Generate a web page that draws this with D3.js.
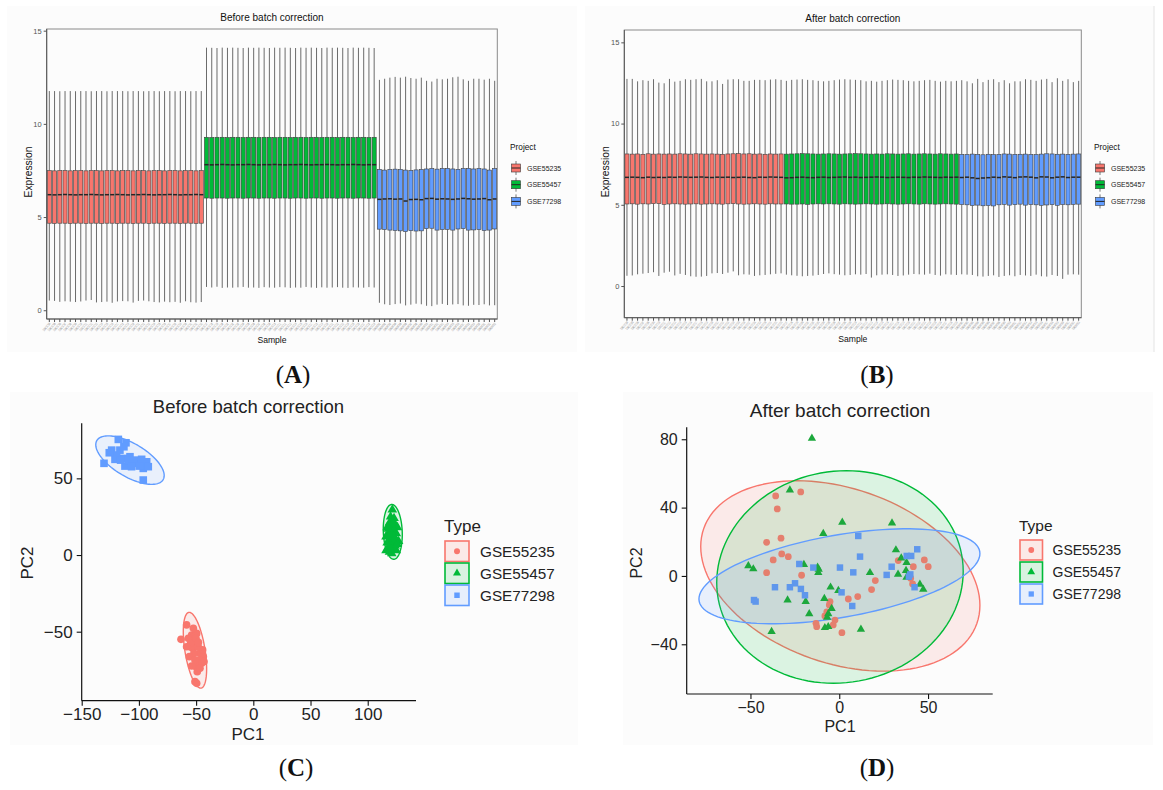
<!DOCTYPE html>
<html><head><meta charset="utf-8">
<script src="https://cdn.jsdelivr.net/npm/d3@7"></script>
<style>body{margin:0;background:#fff}svg{display:block}</style>
</head><body>
<svg id="chart" width="1163" height="790"></svg>
<script>
// ---------------- DATA ----------------
const projects = ["GSE55235", "GSE55457", "GSE77298"];
const projectColors = ["#F8766D", "#00BA38", "#619CFF"];
const sampleCounts = [30, 33, 23];
const sampleIdStart = [1337304, 1337197, 2047001];

const yTicksBox = [0, 5, 10, 15];

// Panel A (before batch correction) : per-sample boxplot statistics
const beforeUpper = [
 11.76,11.76,11.75,11.76,11.76,11.75,11.76,11.76,11.75,11.76,11.76,11.75,11.76,11.76,11.76,11.75,11.76,11.76,11.75,11.76,11.76,11.75,11.76,11.76,11.75,11.76,11.76,11.75,11.76,11.76,
 14.09,14.08,14.07,14.09,14.08,14.09,14.08,14.07,14.09,14.08,14.09,14.08,14.07,14.09,14.08,14.09,14.08,14.07,14.09,14.08,14.09,14.08,14.07,14.09,14.08,14.09,14.08,14.07,14.09,14.08,14.09,14.08,14.07,
 12.36,12.42,12.48,12.52,12.48,12.53,12.46,12.42,12.48,12.31,12.27,12.42,12.39,12.42,12.50,12.53,12.39,12.31,12.42,12.42,12.37,12.42,12.31];
const beforeQ3 = [
 7.49,7.48,7.49,7.49,7.48,7.49,7.49,7.48,7.49,7.49,7.48,7.49,7.49,7.48,7.49,7.49,7.48,7.49,7.49,7.48,7.49,7.49,7.48,7.49,7.49,7.48,7.49,7.49,7.48,7.49,
 9.28,9.27,9.28,9.28,9.27,9.28,9.28,9.27,9.28,9.28,9.27,9.28,9.28,9.27,9.28,9.28,9.27,9.28,9.28,9.27,9.28,9.28,9.27,9.28,9.28,9.27,9.28,9.28,9.27,9.28,9.28,9.27,9.28,
 7.55,7.52,7.55,7.57,7.55,7.52,7.50,7.53,7.55,7.58,7.60,7.57,7.60,7.61,7.58,7.56,7.60,7.61,7.58,7.60,7.58,7.52,7.60];
const beforeMedian = [
 6.20,6.19,6.20,6.21,6.20,6.19,6.20,6.20,6.21,6.20,6.19,6.20,6.20,6.21,6.20,6.19,6.20,6.20,6.21,6.20,6.19,6.20,6.20,6.21,6.20,6.19,6.20,6.20,6.21,6.20,
 7.81,7.80,7.81,7.82,7.81,7.80,7.81,7.81,7.82,7.81,7.80,7.81,7.81,7.82,7.81,7.80,7.81,7.81,7.82,7.81,7.80,7.81,7.81,7.82,7.81,7.80,7.81,7.81,7.82,7.81,7.80,7.81,7.81,
 5.95,5.97,5.98,5.96,5.97,5.86,5.94,5.95,5.93,5.99,6.00,5.96,5.98,5.97,5.95,5.97,6.00,5.98,5.96,5.97,5.99,5.93,5.97];
const beforeQ1 = [
 4.67,4.66,4.67,4.67,4.66,4.67,4.67,4.66,4.67,4.67,4.66,4.67,4.67,4.66,4.67,4.67,4.66,4.67,4.67,4.66,4.67,4.67,4.66,4.67,4.67,4.66,4.67,4.67,4.66,4.67,
 6.02,6.01,6.02,6.02,6.01,6.02,6.02,6.01,6.02,6.02,6.01,6.02,6.02,6.01,6.02,6.02,6.01,6.02,6.02,6.01,6.02,6.02,6.01,6.02,6.02,6.01,6.02,6.02,6.01,6.02,6.02,6.01,6.02,
 4.35,4.33,4.30,4.28,4.26,4.22,4.27,4.25,4.26,4.38,4.40,4.30,4.33,4.34,4.30,4.36,4.38,4.30,4.31,4.33,4.28,4.30,4.36];
const beforeLower = [
 0.52,0.50,0.45,0.48,0.46,0.44,0.47,0.52,0.55,0.42,0.44,0.46,0.40,0.47,0.49,0.48,0.41,0.50,0.52,0.48,0.44,0.42,0.46,0.43,0.45,0.40,0.48,0.43,0.41,0.44,
 1.25,1.22,1.26,1.20,1.22,1.21,1.23,1.25,1.21,1.22,1.20,1.24,1.22,1.21,1.24,1.23,1.20,1.22,1.21,1.25,1.22,1.20,1.23,1.21,1.22,1.24,1.21,1.20,1.23,1.22,1.21,1.24,1.22,
 0.40,0.32,0.28,0.33,0.36,0.26,0.30,0.35,0.32,0.24,0.22,0.30,0.34,0.28,0.31,0.33,0.26,0.24,0.29,0.28,0.32,0.26,0.27];

// Panel B (after batch correction)
const afterUpper = [
 12.75,12.75,12.60,12.67,12.63,12.73,12.52,12.48,12.75,12.58,12.63,12.73,12.69,12.73,12.75,12.60,12.60,12.67,12.44,12.71,12.73,12.73,12.63,12.63,12.69,12.69,12.67,12.71,12.73,12.69,
 12.63,12.69,12.71,12.73,12.69,12.67,12.63,12.60,12.63,12.67,12.71,12.73,12.71,12.69,12.67,12.60,12.63,12.58,12.63,12.67,12.71,12.69,12.67,12.63,12.60,12.63,12.67,12.69,12.63,12.58,12.63,12.60,12.63,
 12.67,12.60,12.48,12.75,12.55,12.69,12.73,12.55,12.67,12.48,12.60,12.60,12.73,12.69,12.63,12.71,12.75,12.55,12.79,12.63,12.73,12.55,12.63];
const afterQ3 = [
 8.13,8.12,8.13,8.11,8.14,8.12,8.13,8.12,8.13,8.12,8.14,8.13,8.12,8.14,8.13,8.12,8.13,8.12,8.11,8.13,8.14,8.15,8.13,8.14,8.12,8.13,8.11,8.13,8.12,8.13,
 8.12,8.13,8.14,8.15,8.14,8.13,8.12,8.13,8.14,8.13,8.12,8.13,8.14,8.15,8.14,8.13,8.12,8.13,8.12,8.14,8.13,8.12,8.13,8.14,8.12,8.13,8.14,8.13,8.12,8.14,8.13,8.12,8.13,
 8.10,8.09,8.12,8.10,8.08,8.11,8.09,8.10,8.13,8.12,8.10,8.11,8.12,8.10,8.09,8.12,8.14,8.13,8.11,8.12,8.10,8.12,8.13];
const afterMedian = [
 6.69,6.70,6.69,6.67,6.70,6.68,6.69,6.68,6.70,6.69,6.71,6.70,6.69,6.70,6.71,6.69,6.68,6.70,6.69,6.70,6.68,6.69,6.70,6.68,6.67,6.70,6.69,6.71,6.70,6.69,
 6.66,6.67,6.69,6.70,6.68,6.67,6.69,6.70,6.68,6.69,6.70,6.71,6.69,6.70,6.68,6.69,6.70,6.71,6.70,6.68,6.69,6.70,6.69,6.68,6.70,6.69,6.71,6.70,6.69,6.68,6.70,6.69,6.70,
 6.68,6.70,6.66,6.62,6.65,6.67,6.70,6.68,6.72,6.70,6.67,6.71,6.72,6.70,6.66,6.72,6.71,6.66,6.70,6.72,6.68,6.70,6.70];
const afterQ1 = [
 5.05,5.06,5.04,5.06,5.05,5.07,5.07,5.03,5.05,5.06,5.05,5.04,5.05,5.06,5.04,5.05,5.06,5.05,5.04,5.06,5.07,5.05,5.04,5.05,5.06,5.05,5.04,5.06,5.05,5.05,
 5.05,5.04,5.04,5.05,5.03,5.05,5.06,5.05,5.06,5.05,5.04,5.06,5.05,5.04,5.05,5.06,5.05,5.04,5.05,5.06,5.05,5.04,5.05,5.06,5.05,5.04,5.06,5.05,5.04,5.05,5.06,5.05,5.04,
 5.02,5.00,4.96,4.98,4.94,4.96,4.93,5.00,5.03,4.98,5.01,5.04,4.98,5.02,5.00,4.97,4.99,5.01,4.97,5.02,5.00,5.03,5.04];
const afterLower = [
 0.63,0.65,0.72,0.76,0.80,0.85,0.62,0.82,0.88,0.65,0.75,0.68,0.60,0.57,0.58,0.62,0.78,0.80,0.74,0.82,0.90,0.66,0.72,0.70,0.62,0.66,0.68,0.72,0.75,0.78,
 0.70,0.66,0.63,0.60,0.62,0.64,0.68,0.74,0.78,0.73,0.70,0.66,0.68,0.72,0.70,0.74,0.52,0.66,0.70,0.72,0.68,0.62,0.65,0.70,0.74,0.72,0.70,0.76,0.68,0.64,0.72,0.70,0.68,
 0.72,0.70,0.68,0.60,0.58,0.62,0.66,0.56,0.62,0.66,0.60,0.68,0.65,0.62,0.70,0.60,0.58,0.68,0.62,0.44,0.70,0.72,0.70];

// Panel C (PCA before) : [PC1, PC2]
const beforePCA_GSE55235 = [[-58.3,-45.6],[-63.2,-55.0],[-53.9,-52.2],[-52.4,-55.4],[-55.4,-59.8],[-51.0,-58.7],[-49.5,-51.1],[-53.0,-60.8],[-46.6,-64.1],[-43.7,-66.3],[-47.2,-68.4],[-45.2,-70.6],[-50.1,-72.8],[-53.9,-72.4],[-49.0,-76.1],[-51.0,-82.6],[-49.5,-83.7],[-56.8,-54.3],[-54.8,-57.6],[-50.1,-54.3],[-51.9,-64.1],[-44.3,-61.9],[-43.1,-69.5],[-52.4,-47.8],[-48.1,-60.1],[-55.9,-66.3],[-46.6,-73.9],[-51.0,-68.4],[-58.3,-59.8],[-48.0,-57.0]];
const beforePCA_GSE55457 = [[121.5,29.5],[120,25],[123,24],[119,21],[124,20],[121,19],[117,18],[126,18],[120,16],[123,16],[118,14],[125,14],[121,13],[116,12],[124,11],[119,10],[122,9],[127,9],[117,8],[120,7],[124,6],[118,5],[122,4],[116,3],[125,3],[119,2],[121,1],[123,12],[119,13],[122,21],[118,17],[126,7],[120,4]];
const beforePCA_GSE77298 = [[-118.0,75.4],[-111.3,73.2],[-123.8,68.4],[-116.6,68.4],[-130.5,59.8],[-120.9,62.4],[-113.6,63.0],[-107.8,64.1],[-112.2,58.0],[-103.4,61.9],[-97.6,62.4],[-93.2,60.8],[-96.2,56.5],[-96.2,48.9],[-119.5,65.2],[-104.9,59.8],[-99.7,58.0],[-109.3,61.5],[-116.0,61.9],[-125.9,66.7],[-106.4,57.6],[-91.8,57.6],[-113.1,70.6]];

// Panel D (PCA after)
const afterPCA_GSE55235 = [[-35.8,46.8],[-21.7,49.2],[-34.9,39.2],[-40.9,19.7],[-32.8,22.1],[-32.4,12.9],[-28.7,11.3],[-37.2,9.4],[-40.9,1.9],[-21.2,0.4],[20.3,-2.7],[18.2,-8.0],[10.4,-12.1],[5.1,-13.5],[-5.2,-15.0],[-5.6,-17.0],[-8.1,-23.4],[-2.4,-25.8],[-13.1,-27.7],[-12.7,-29.7],[-3.4,-28.7],[1.5,-33.2],[33.2,9.0],[47.9,9.4],[50.1,5.4],[41.7,5.4],[39.8,-0.4],[41.3,-4.7],[40.2,-1.4],[-7.0,-21.0]];
const afterPCA_GSE55457 = [[-15.4,80.6],[-27.8,50.3],[1.7,31.4],[29.7,31.0],[-9.0,24.8],[-51.2,5.9],[-48.4,4.1],[-19.9,6.6],[-12.2,5.1],[-11.8,1.9],[31.9,15.2],[34.9,10.5],[37.9,7.8],[17.3,1.9],[33.1,1.0],[37.6,3.1],[37.9,-0.8],[-4.9,-6.6],[-0.5,-8.6],[45.4,-4.9],[47.3,-7.8],[-29.1,-14.1],[-18.9,-15.0],[-8.4,-13.3],[-4.3,-19.1],[-16.9,-22.2],[-6.2,-22.2],[-8.1,-30.3],[-6.2,-29.7],[-38.1,-32.6],[12.2,-31.2],[-6.8,-24.2],[-11.6,3.9]];
const afterPCA_GSE77298 = [[10.7,23.4],[43.9,15.6],[11.7,11.3],[38.0,11.7],[40.5,11.7],[-22.5,7.0],[-14.6,4.9],[0.4,4.9],[7.9,2.1],[26.7,0.6],[29.5,5.4],[39.2,-0.4],[-36.2,-6.6],[-24.9,-4.3],[-27.8,-6.6],[-21.6,-7.6],[-19.3,-11.3],[1.3,-9.6],[7.3,-17.6],[-48.0,-14.1],[-47.1,-15.0],[42.4,-6.6],[40.0,0.9]];

// 95% ellipses: [centerPC1, centerPC2, varPC1, covar, varPC2]
const beforeEllipses = [[-51.0,-62.1,104,-123,610],[121.9,15.1,69,-15,320],[-107.8,61.9,894,-300,250]];
const afterEllipses = [[0.6,0.0,6178,-1352,3102],[0.4,-0.6,4816,230,3869],[0.1,-0.2,6257,1050,773]];

const beforeXTicks = [-150,-100,-50,0,50,100];
const beforeYTicks = [-50,0,50];
const afterXTicks = [-50,0,50];
const afterYTicks = [-40,0,40,80];

// ---------------- DRAW ----------------
const SANS = "'Liberation Sans', Arial, Helvetica, sans-serif";
const svg = d3.select("#chart");
svg.append("rect").attr("width",1163).attr("height",790).attr("fill","#fff");

// faint image frames
[[7,6,570,346],[585,6,569,346],[10,392,568,353],[623,392,530,353]].forEach(r=>{
  svg.append("rect").attr("x",r[0]).attr("y",r[1]).attr("width",r[2]).attr("height",r[3]).attr("fill","#fcfcfc");
});
svg.append("line").attr("x1",1154).attr("x2",1154).attr("y1",6).attr("y2",352).attr("stroke","#e4e4e4");

// sample → project index, sample names
const sampleGroup = [];
const sampleNames = [];
sampleCounts.forEach((n,g)=>{ for(let i=0;i<n;i++){ sampleGroup.push(g); sampleNames.push("GSM"+(sampleIdStart[g]+i)); } });

function boxPanel(o){
  const g = svg.append("g");
  const n = sampleGroup.length;
  const x = d3.scaleBand().domain(d3.range(n)).range([o.L,o.R]).paddingInner(0.22).paddingOuter(0.11);
  const y = d3.scaleLinear().domain(o.yDomain).range([o.B,o.T]);
  const bw = x.bandwidth();
  const idx = d3.range(n);
  g.selectAll("line.wu").data(idx).join("line")
    .attr("x1",i=>x(i)+bw/2).attr("x2",i=>x(i)+bw/2)
    .attr("y1",i=>y(o.upper[i])).attr("y2",i=>y(o.q3[i]))
    .attr("stroke","#5a5a5a").attr("stroke-width",0.9);
  g.selectAll("line.wl").data(idx).join("line")
    .attr("x1",i=>x(i)+bw/2).attr("x2",i=>x(i)+bw/2)
    .attr("y1",i=>y(o.q1[i])).attr("y2",i=>y(o.lower[i]))
    .attr("stroke","#5a5a5a").attr("stroke-width",0.9);
  g.selectAll("rect.box").data(idx).join("rect")
    .attr("x",i=>x(i)).attr("width",bw)
    .attr("y",i=>y(o.q3[i])).attr("height",i=>y(o.q1[i])-y(o.q3[i]))
    .attr("fill",i=>projectColors[sampleGroup[i]]).attr("stroke","#3a3a3a").attr("stroke-width",0.6);
  g.selectAll("line.med").data(idx).join("line")
    .attr("x1",i=>x(i)).attr("x2",i=>x(i)+bw)
    .attr("y1",i=>y(o.med[i])).attr("y2",i=>y(o.med[i]))
    .attr("stroke","#262626").attr("stroke-width",1.5);
  g.append("rect").attr("x",o.L).attr("y",o.T).attr("width",o.R-o.L).attr("height",o.B-o.T)
    .attr("fill","none").attr("stroke","#8a8a8a").attr("stroke-width",1);
  g.append("line").attr("x1",o.L).attr("x2",o.L).attr("y1",o.T).attr("y2",o.B).attr("stroke","#555");
  g.append("line").attr("x1",o.L).attr("x2",o.R).attr("y1",o.B).attr("y2",o.B).attr("stroke","#555");
  const ya = g.append("g").attr("transform",`translate(${o.L},0)`)
    .call(d3.axisLeft(y).tickValues(yTicksBox).tickSize(3).tickPadding(2));
  ya.select(".domain").remove();
  ya.selectAll("line").attr("stroke","#555");
  ya.selectAll("text").attr("font-family",SANS).attr("font-size",7.5).attr("fill","#555");
  const xa = g.append("g").attr("transform",`translate(0,${o.B})`)
    .call(d3.axisBottom(x).tickSize(3).tickFormat(i=>sampleNames[i]));
  xa.select(".domain").remove();
  xa.selectAll("line").attr("stroke","#555");
  xa.selectAll("text").attr("font-family",SANS).attr("font-size",3.6).attr("fill","#8a8a8a")
    .attr("text-anchor","end").attr("dy",0).attr("y",0)
    .attr("transform","translate(1.5,5) rotate(-48)")
    .attr("textLength",10).attr("lengthAdjust","spacingAndGlyphs");
  g.append("text").attr("x",(o.L+o.R)/2).attr("y",o.T-8).attr("text-anchor","middle")
    .attr("font-family",SANS).attr("font-size",10).attr("fill","#111").text(o.title);
  g.append("text").attr("x",(o.L+o.R)/2).attr("y",o.B+24).attr("text-anchor","middle")
    .attr("font-family",SANS).attr("font-size",8.6).attr("fill","#111").text("Sample");
  g.append("text").attr("transform",`translate(${o.L-15},${(o.T+o.B)/2-2}) rotate(-90)`).attr("text-anchor","middle")
    .attr("font-family",SANS).attr("font-size",10.3).attr("fill","#111").text("Expression");
  const lg = g.append("g").attr("transform",`translate(${o.legX},${o.legY})`);
  lg.append("text").attr("x",0).attr("y",0).attr("font-family",SANS).attr("font-size",8.3).attr("fill","#111").text("Project");
  projects.forEach((p,k)=>{
    const cy = 18 + k*16.7;
    lg.append("line").attr("x1",6).attr("x2",6).attr("y1",cy-7).attr("y2",cy+7).attr("stroke","#555").attr("stroke-width",0.8);
    lg.append("rect").attr("x",1.5).attr("y",cy-4).attr("width",9).attr("height",8)
      .attr("fill",projectColors[k]).attr("stroke","#3a3a3a").attr("stroke-width",0.6);
    lg.append("line").attr("x1",1.5).attr("x2",10.5).attr("y1",cy).attr("y2",cy).attr("stroke","#262626").attr("stroke-width",1);
    lg.append("text").attr("x",17).attr("y",cy+2.5).attr("font-family",SANS).attr("font-size",7).attr("fill","#222").text(p);
  });
}

boxPanel({L:46.7,R:497.3,T:29,B:319,yDomain:[-0.47,15.09],title:"Before batch correction",
  upper:beforeUpper,q3:beforeQ3,med:beforeMedian,q1:beforeQ1,lower:beforeLower,legX:510,legY:150});
boxPanel({L:624.3,R:1081.3,T:30,B:317.7,yDomain:[-1.95,15.76],title:"After batch correction",
  upper:afterUpper,q3:afterQ3,med:afterMedian,q1:afterQ1,lower:afterLower,legX:1094,legY:150});

const symbolTypes = [d3.symbolCircle, d3.symbolTriangle, d3.symbolSquare];

function pcaPanel(o){
  const g = svg.append("g");
  const x = d3.scaleLinear().domain(o.xDomain).range([o.L,o.R]);
  const y = d3.scaleLinear().domain(o.yDomain).range([o.B,o.T]);
  o.ellipses.forEach((e,k)=>{
    const [cx,cy,a,b,c] = e;
    const l11 = Math.sqrt(a), l21 = b/l11, l22 = Math.sqrt(c-l21*l21);
    const pts = d3.range(0,120).map(j=>{ const t=j/120*2*Math.PI; return [cx+l11*Math.cos(t), cy+l21*Math.cos(t)+l22*Math.sin(t)]; });
    g.append("path").attr("d",d3.line().x(d=>x(d[0])).y(d=>y(d[1])).curve(d3.curveLinearClosed)(pts))
      .attr("fill",projectColors[k]).attr("fill-opacity",o.fillOp).attr("stroke",projectColors[k]).attr("stroke-width",1.4);
  });
  o.points.forEach((arr,k)=>{
    g.selectAll(null).data(arr).join("path")
      .attr("transform",d=>`translate(${x(d[0])},${y(d[1])})`)
      .attr("d",d3.symbol().type(symbolTypes[k]).size(o.sizes[k]))
      .attr("fill",o.pointColors[k]);
  });
  const xa = g.append("g").attr("transform",`translate(0,${o.B})`)
    .call(d3.axisBottom(x).tickValues(o.xTicks).tickSize(5).tickPadding(o.xPad).tickFormat(d=>d<0?"\u2212"+Math.abs(d):d));
  xa.select(".domain").attr("stroke","#111").attr("stroke-width",1.2).attr("d",`M${o.L},0H${o.R}`);
  xa.selectAll("line").attr("stroke","#111").attr("stroke-width",1.1);
  xa.selectAll("text").attr("font-family",SANS).attr("font-size",o.tickFs).attr("fill","#222");
  const ya = g.append("g").attr("transform",`translate(${o.L},0)`)
    .call(d3.axisLeft(y).tickValues(o.yTicks).tickSize(5).tickPadding(4).tickFormat(d=>d<0?"\u2212"+Math.abs(d):d));
  ya.select(".domain").attr("stroke","#111").attr("stroke-width",1.2).attr("d",`M0,${o.T}V${o.B}`);
  ya.selectAll("line").attr("stroke","#111").attr("stroke-width",1.1);
  ya.selectAll("text").attr("font-family",SANS).attr("font-size",o.tickFs).attr("fill","#222");
  g.append("text").attr("x",o.titleX).attr("y",o.titleY).attr("text-anchor","middle")
    .attr("font-family",SANS).attr("font-size",o.titleFs).attr("fill","#222").text(o.title);
  g.append("text").attr("x",o.pc1X).attr("y",o.pc1Y).attr("text-anchor","middle")
    .attr("font-family",SANS).attr("font-size",o.labFs).attr("fill","#222").text("PC1");
  g.append("text").attr("transform",`translate(${o.pc2X},${o.pc2Y}) rotate(-90)`).attr("text-anchor","middle")
    .attr("font-family",SANS).attr("font-size",o.labFs).attr("fill","#222").text("PC2");
  const lg = g.append("g").attr("transform",`translate(${o.legX},${o.legY})`);
  lg.append("text").attr("x",0).attr("y",0).attr("font-family",SANS).attr("font-size",o.typeFs).attr("fill","#222").text("Type");
  projects.forEach((p,k)=>{
    const top = o.keyTop + k*o.keyStep;
    lg.append("rect").attr("x",1).attr("y",top).attr("width",o.keyW).attr("height",o.keyH)
      .attr("fill",projectColors[k]).attr("fill-opacity",0.14).attr("stroke",projectColors[k]).attr("stroke-width",1.6);
    lg.append("path").attr("transform",`translate(${1+o.keyW/2},${top+o.keyH/2})`)
      .attr("d",d3.symbol().type(symbolTypes[k]).size(o.keySym[k])).attr("fill",projectColors[k]);
    lg.append("text").attr("x",o.labX).attr("y",top+o.keyH/2+o.legFs*0.36).attr("font-family",SANS)
      .attr("font-size",o.legFs).attr("fill","#222").text(p);
  });
}

pcaPanel({L:81.7,R:416,T:423.3,B:700.7,xDomain:[-150,142.2],yDomain:[-95,85.9],
  ellipses:beforeEllipses,points:[beforePCA_GSE55235,beforePCA_GSE55457,beforePCA_GSE77298],
  pointColors:["#F8766D","#00BA38","#619CFF"],
  sizes:[46,40,58],fillOp:0.12,xTicks:beforeXTicks,yTicks:beforeYTicks,tickFs:17,xPad:2,
  title:"Before batch correction",titleX:248.5,titleY:412.5,titleFs:18.5,
  pc1X:248,pc1Y:739.5,pc2X:33,pc2Y:563,labFs:17,
  legX:444,legY:532,typeFs:17,keyTop:9,keyStep:22,keyW:24,keyH:20.5,keySym:[28,28,30],labX:36,legFs:15.3});

pcaPanel({L:686.7,R:992.7,T:427.3,B:694,xDomain:[-85.9,86.4],yDomain:[-69.1,87.0],
  ellipses:afterEllipses,points:[afterPCA_GSE55235,afterPCA_GSE55457,afterPCA_GSE77298],
  pointColors:["#E57F6E","#1CA83C","#5F97EC"],
  sizes:[36,30,42],fillOp:0.13,xTicks:afterXTicks,yTicks:afterYTicks,tickFs:16,xPad:3,
  title:"After batch correction",titleX:840,titleY:416.5,titleFs:19,
  pc1X:840,pc1Y:731.5,pc2X:642,pc2Y:563,labFs:16,
  legX:1019,legY:531,typeFs:15.5,keyTop:9,keyStep:22,keyW:22.5,keyH:20,keySym:[26,26,28],labX:33.5,legFs:14});

function letter(cx,by,L){
  const t = svg.append("text").attr("x",cx).attr("y",by).attr("text-anchor","middle")
    .attr("font-family","'Liberation Serif','Times New Roman',serif").attr("font-size",25).attr("fill","#111");
  t.append("tspan").text("(");
  t.append("tspan").attr("font-weight","bold").text(L);
  t.append("tspan").text(")");
}
letter(293,383,"A"); letter(877,383,"B"); letter(296,776,"C"); letter(877,776,"D");
</script>
</body></html>
